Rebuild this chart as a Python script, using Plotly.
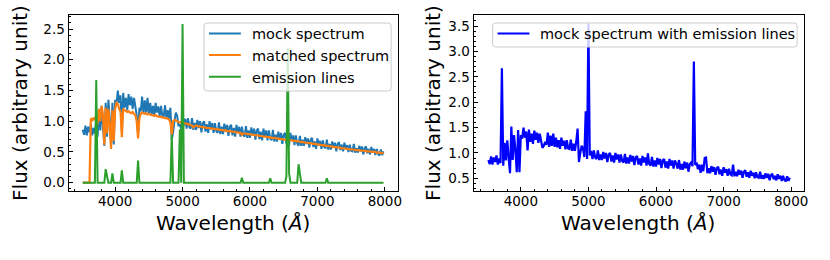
import plotly.graph_objects as go

# Wavelength sampling grid (Angstrom), 20 A steps from 3520 to 7980
wavelength = list(range(3520, 8000, 20))

# Mock spectrum (noisy)
mock_flux = [
    0.86, 0.78, 0.93, 0.77, 0.91, 0.82, 0.95, 0.77, 0.89, 0.80,   # 3520-3700
    1.00, 0.75, 1.20, 0.85, 1.25, 0.90, 0.60, 1.30, 0.75, 1.35,   # 3720-3900
    1.05, 0.62, 1.30, 0.62, 1.35, 1.28, 1.50, 1.30, 1.42, 0.85,   # 3920-4100
    1.46, 1.22, 1.38, 1.18, 1.44, 1.26, 1.40, 1.20, 1.38, 1.24,   # 4120-4300
    1.10, 0.78, 1.22, 1.16, 1.40, 1.12, 1.34, 1.14, 1.38, 1.12,   # 4320-4500
    1.30, 1.11, 1.25, 1.08, 1.30, 1.14, 1.24, 1.07, 1.25, 1.09,   # 4520-4700
    1.08, 1.26, 1.04, 1.18, 1.04, 1.22, 0.70, 0.82, 1.00, 1.14,   # 4720-4900
    1.09, 0.92, 0.95, 0.88, 0.97, 0.95, 1.04, 0.88, 1.05, 0.91,   # 4920-5100
    0.88, 1.05, 0.86, 0.97, 0.86, 1.02, 0.89, 1.00, 0.82, 0.97,   # 5120-5300
    1.00, 0.83, 0.95, 0.81, 1.00, 0.87, 0.97, 0.81, 0.97, 0.84,   # 5320-5500
    0.81, 0.98, 0.79, 0.91, 0.79, 0.96, 0.83, 0.94, 0.76, 0.91,   # 5520-5700
    0.94, 0.77, 0.89, 0.75, 0.94, 0.81, 0.91, 0.75, 0.91, 0.78,   # 5720-5900
    0.75, 0.92, 0.73, 0.85, 0.73, 0.90, 0.77, 0.88, 0.70, 0.85,   # 5920-6100
    0.88, 0.71, 0.83, 0.69, 0.88, 0.75, 0.85, 0.69, 0.85, 0.72,   # 6120-6300
    0.69, 0.86, 0.67, 0.78, 0.67, 0.83, 0.70, 0.81, 0.63, 0.78,   # 6320-6500
    0.81, 0.64, 0.60, 0.61, 0.81, 0.68, 0.77, 0.61, 0.77, 0.64,   # 6520-6700
    0.60, 0.76, 0.60, 0.70, 0.60, 0.74, 0.63, 0.72, 0.57, 0.70,   # 6720-6900
    0.73, 0.58, 0.67, 0.55, 0.72, 0.61, 0.68, 0.55, 0.69, 0.58,   # 6920-7100
    0.56, 0.70, 0.54, 0.63, 0.54, 0.67, 0.57, 0.65, 0.51, 0.63,   # 7120-7300
    0.66, 0.53, 0.62, 0.51, 0.65, 0.55, 0.61, 0.50, 0.62, 0.52,   # 7320-7500
    0.51, 0.63, 0.49, 0.56, 0.49, 0.60, 0.51, 0.59, 0.46, 0.56,   # 7520-7700
    0.59, 0.48, 0.55, 0.46, 0.58, 0.49, 0.55, 0.45, 0.55, 0.47,   # 7720-7900
    0.44, 0.54, 0.45, 0.51,                                       # 7920-7980
]

# Matched (model) spectrum
matched_flux = [
    0.00, 0.00, 0.00, 0.00, 0.00, 0.00, 1.05, 1.00, 1.06, 1.02,   # 3520-3700
    1.08, 0.95, 1.20, 1.00, 1.25, 1.10, 0.62, 1.22, 0.80, 1.20,   # 3720-3900
    0.95, 0.55, 1.18, 0.68, 1.20, 1.30, 1.28, 1.20, 1.15, 0.74,   # 3920-4100
    1.20, 1.18, 1.17, 1.15, 1.16, 1.14, 1.13, 1.15, 1.12, 1.10,   # 4120-4300
    1.00, 0.72, 1.05, 1.12, 1.14, 1.13, 1.12, 1.13, 1.11, 1.12,   # 4320-4500
    1.11, 1.10, 1.10, 1.09, 1.10, 1.08, 1.08, 1.07, 1.07, 1.06,   # 4520-4700
    1.06, 1.05, 1.05, 1.04, 1.03, 0.98, 0.78, 1.00, 1.02, 1.01,   # 4720-4900
    1.00, 0.99, 0.98, 0.98, 0.97, 0.97, 0.96, 0.96, 0.95, 0.95,   # 4920-5100
    0.94, 0.93, 0.90, 0.92, 0.93, 0.92, 0.92, 0.91, 0.91, 0.90,   # 5120-5300
    0.90, 0.90, 0.89, 0.89, 0.89, 0.88, 0.88, 0.88, 0.87, 0.87,   # 5320-5500
    0.87, 0.86, 0.86, 0.86, 0.85, 0.85, 0.85, 0.84, 0.84, 0.84,   # 5520-5700
    0.83, 0.83, 0.83, 0.82, 0.82, 0.82, 0.81, 0.81, 0.78, 0.80,   # 5720-5900
    0.80, 0.80, 0.79, 0.79, 0.79, 0.78, 0.78, 0.78, 0.77, 0.77,   # 5920-6100
    0.77, 0.76, 0.76, 0.76, 0.75, 0.75, 0.75, 0.74, 0.74, 0.74,   # 6120-6300
    0.73, 0.73, 0.73, 0.72, 0.72, 0.72, 0.71, 0.71, 0.71, 0.70,   # 6320-6500
    0.70, 0.70, 0.66, 0.69, 0.69, 0.69, 0.68, 0.68, 0.68, 0.67,   # 6520-6700
    0.67, 0.67, 0.66, 0.66, 0.66, 0.65, 0.65, 0.65, 0.64, 0.64,   # 6720-6900
    0.64, 0.63, 0.63, 0.63, 0.62, 0.62, 0.62, 0.61, 0.61, 0.61,   # 6920-7100
    0.60, 0.60, 0.60, 0.59, 0.59, 0.59, 0.58, 0.58, 0.58, 0.57,   # 7120-7300
    0.57, 0.57, 0.56, 0.56, 0.56, 0.55, 0.55, 0.55, 0.54, 0.54,   # 7320-7500
    0.54, 0.54, 0.53, 0.53, 0.53, 0.53, 0.52, 0.52, 0.52, 0.52,   # 7520-7700
    0.51, 0.51, 0.51, 0.51, 0.50, 0.50, 0.50, 0.50, 0.49, 0.49,   # 7720-7900
    0.49, 0.49, 0.48, 0.48,                                       # 7920-7980
]

# Emission-line spectrum
emission_flux = [
    0, 0, 0, 0, 0, 0, 0, 0, 0, 0,                  # 3520-3700
    1.67, 0, 0, 0, 0, 0, 0, 0.22, 0.11, 0,         # 3720-3900
    0, 0, 0.15, 0, 0, 0, 0, 0, 0, 0.20,            # 3920-4100
    0, 0, 0, 0, 0, 0, 0, 0, 0, 0,                  # 4120-4300
    0, 0.36, 0, 0, 0, 0, 0, 0, 0, 0,               # 4320-4500
    0, 0, 0, 0, 0, 0, 0, 0, 0, 0,                  # 4520-4700
    0, 0, 0, 0, 0, 0, 0.78, 0, 0, 0,               # 4720-4900
    0, 0, 0.87, 0, 2.58, 0, 0, 0, 0, 0,            # 4920-5100
    0, 0, 0, 0, 0, 0, 0, 0, 0, 0,                  # 5120-5300
    0, 0, 0, 0, 0, 0, 0, 0, 0, 0,                  # 5320-5500
    0, 0, 0, 0, 0, 0, 0, 0, 0, 0,                  # 5520-5700
    0, 0, 0, 0, 0, 0, 0, 0, 0.08, 0,               # 5720-5900
    0, 0, 0, 0, 0, 0, 0, 0, 0, 0,                  # 5920-6100
    0, 0, 0, 0, 0, 0, 0, 0, 0, 0.07,               # 6120-6300
    0, 0, 0, 0, 0, 0, 0, 0, 0, 0,                  # 6320-6500
    0, 0.10, 2.20, 0.15, 0, 0, 0, 0, 0, 0,         # 6520-6700
    0.30, 0.15, 0, 0, 0, 0, 0, 0, 0, 0,            # 6720-6900
    0, 0, 0, 0, 0, 0, 0, 0, 0, 0,                  # 6920-7100
    0, 0.07, 0, 0, 0, 0, 0, 0, 0, 0,               # 7120-7300
    0, 0, 0, 0, 0, 0, 0, 0, 0, 0,                  # 7320-7500
    0, 0, 0, 0, 0, 0, 0, 0, 0, 0,                  # 7520-7700
    0, 0, 0, 0, 0, 0, 0, 0, 0, 0,                  # 7720-7900
    0, 0, 0, 0,                                    # 7920-7980
]

# Mock spectrum with emission lines added
combined_flux = [m + e for m, e in zip(mock_flux, emission_flux)]

x_ticks = [4000, 5000, 6000, 7000, 8000]
y_ticks_left = [0.0, 0.5, 1.0, 1.5, 2.0, 2.5]
y_ticks_right = [0.5, 1.0, 1.5, 2.0, 2.5, 3.0, 3.5]

left_legend_labels = ["mock spectrum", "matched spectrum", "emission lines"]
left_legend_colors = ["#1f77b4", "#ff7f0e", "#2ca02c"]
right_legend_labels = ["mock spectrum with emission lines"]
right_legend_colors = ["#0000ff"]

FONT = "DejaVu Sans"
W, H = 830, 260


def px_x(p):
    return p / W


def px_y(p):
    return 1 - p / H


fig = go.Figure()

fig.add_trace(go.Scatter(x=wavelength, y=mock_flux, mode="lines", name=left_legend_labels[0],
                         line=dict(color=left_legend_colors[0], width=2, simplify=False),
                         xaxis="x", yaxis="y"))
fig.add_trace(go.Scatter(x=wavelength, y=matched_flux, mode="lines", name=left_legend_labels[1],
                         line=dict(color=left_legend_colors[1], width=2.2, simplify=False),
                         xaxis="x", yaxis="y"))
fig.add_trace(go.Scatter(x=wavelength, y=emission_flux, mode="lines", name=left_legend_labels[2],
                         line=dict(color=left_legend_colors[2], width=2, simplify=False),
                         xaxis="x", yaxis="y"))
fig.add_trace(go.Scatter(x=wavelength, y=combined_flux, mode="lines", name=right_legend_labels[0],
                         line=dict(color=right_legend_colors[0], width=2.2, simplify=False),
                         xaxis="x2", yaxis="y2"))

axis_common = dict(
    showline=True, linecolor="black", linewidth=1.3, mirror=True,
    ticks="inside", ticklen=4, tickwidth=1, tickcolor="black",
    showgrid=False, zeroline=False,
    tickfont=dict(family=FONT, size=13.5, color="black"),
)

fig.update_layout(
    width=W, height=H,
    margin=dict(l=0, r=0, t=0, b=0),
    paper_bgcolor="white", plot_bgcolor="white",
    font=dict(family=FONT, color="black"),
    showlegend=False,
    xaxis=dict(domain=[px_x(69), px_x(400)], range=[3311, 8196], anchor="y",
               tickvals=x_ticks, ticklabelstandoff=-2,
               minor=dict(ticks="inside", dtick=200, ticklen=2, tickcolor="black"),
               **axis_common),
    yaxis=dict(domain=[px_y(191), px_y(15)], range=[-0.135, 2.728], anchor="x",
               tickvals=y_ticks_left, tickformat=".1f",
               minor=dict(ticks="inside", dtick=0.1, ticklen=2, tickcolor="black"),
               **axis_common),
    xaxis2=dict(domain=[px_x(476), px_x(808)], range=[3303, 8191], anchor="y2",
                tickvals=x_ticks, ticklabelstandoff=-2,
                minor=dict(ticks="inside", dtick=200, ticklen=2, tickcolor="black"),
                **axis_common),
    yaxis2=dict(domain=[px_y(191), px_y(15)], range=[0.25, 3.717], anchor="x2",
                tickvals=y_ticks_right, tickformat=".1f",
                minor=dict(ticks="inside", dtick=0.1, ticklen=2, tickcolor="black"),
                **axis_common),
)

# Axis titles
annotations = [
    dict(text="Wavelength (<i>Å</i>)", x=px_x(234.5), y=px_y(223)),
    dict(text="Wavelength (<i>Å</i>)", x=px_x(641), y=px_y(223)),
    dict(text="Flux (arbitrary unit)", x=px_x(20), y=px_y(103), textangle=-90),
    dict(text="Flux (arbitrary unit)", x=px_x(435), y=px_y(103), textangle=-90),
]
for a in annotations:
    fig.add_annotation(xref="paper", yref="paper", showarrow=False,
                       xanchor="center", yanchor="middle",
                       font=dict(family=FONT, size=20, color="black"), **a)


def rounded_box(x0, y0, x1, y1, r=3):
    X, Y = px_x, px_y
    return (f"M {X(x0 + r)},{Y(y0)} L {X(x1 - r)},{Y(y0)} Q {X(x1)},{Y(y0)} {X(x1)},{Y(y0 + r)} "
            f"L {X(x1)},{Y(y1 - r)} Q {X(x1)},{Y(y1)} {X(x1 - r)},{Y(y1)} "
            f"L {X(x0 + r)},{Y(y1)} Q {X(x0)},{Y(y1)} {X(x0)},{Y(y1 - r)} "
            f"L {X(x0)},{Y(y0 + r)} Q {X(x0)},{Y(y0)} {X(x0 + r)},{Y(y0)} Z")


def draw_legend(box, labels, colors, line_x0, line_x1, text_x, row_y0, row_step):
    fig.add_shape(type="path", path=rounded_box(*box), xref="paper", yref="paper",
                  fillcolor="rgba(255,255,255,0.8)", line=dict(color="#cccccc", width=1),
                  layer="above")
    for i, (lab, col) in enumerate(zip(labels, colors)):
        yy = row_y0 + i * row_step
        fig.add_shape(type="line", xref="paper", yref="paper",
                      x0=px_x(line_x0), x1=px_x(line_x1), y0=px_y(yy), y1=px_y(yy),
                      line=dict(color=col, width=2), layer="above")
        fig.add_annotation(xref="paper", yref="paper", showarrow=False,
                           x=px_x(text_x), y=px_y(yy + 1), xanchor="left", yanchor="middle",
                           text=lab, font=dict(family=FONT, size=14.5, color="black"))


draw_legend((205, 23, 393, 91), left_legend_labels, left_legend_colors,
            210, 242, 251, 33.5, 21.6)
draw_legend((495, 23, 801, 47), right_legend_labels, right_legend_colors,
            500, 532, 541, 33.5, 21.6)

fig.write_html("out.html", config={"displayModeBar": False},
               post_script="document.body.style.margin='0';")
